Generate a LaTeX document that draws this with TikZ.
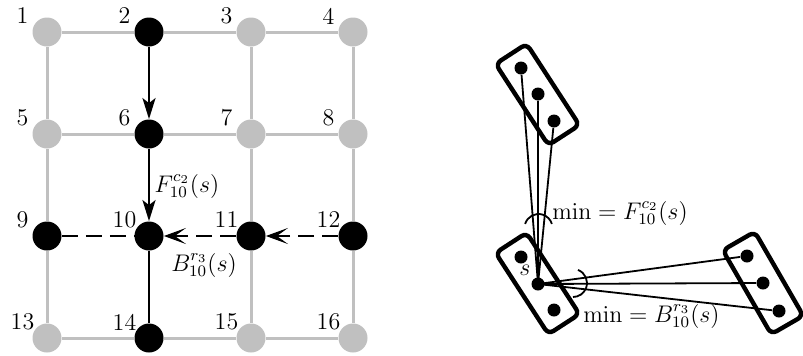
\documentclass[tikz,border=0pt]{standalone}
\usetikzlibrary{arrows.meta,backgrounds}
\definecolor{lg}{RGB}{192,192,192}
\begin{document}
\begin{tikzpicture}[x=0.5pt,y=-0.5pt, font=\fontsize{12}{14}\selectfont,
 gnode/.style={circle,fill=lg,minimum size=14.5pt,inner sep=0pt},
 bnode/.style={circle,fill=black,minimum size=14.5pt,inner sep=0pt},
 gedge/.style={draw=lg,line width=1.5pt},
 solidarr/.style={line width=1.2pt,-{Stealth[length=10.5pt,width=6.5pt,inset=2.5pt]}},
 dashedge/.style={line width=1.3pt,dash pattern=on 8pt off 4pt},
 dasharr/.style={dashedge,-{Stealth[length=11pt,width=8pt,inset=5.5pt]}},
 numlab/.style={inner sep=0pt},
 rbox/.style={draw,line width=2.2pt,rounded corners=3pt,minimum width=48.5pt,minimum height=18.5pt,inner sep=0pt},
 dot/.style={circle,fill=black,minimum size=6.5pt,inner sep=0pt},
 thinline/.style={line width=0.9pt}]
\useasboundingbox (0,0) rectangle (803,355);
% grid nodes
\node[gnode] (n1) at (47,32) {};
\node[bnode] (n2) at (149,32) {};
\node[gnode] (n3) at (251,32) {};
\node[gnode] (n4) at (353,32) {};
\node[gnode] (n5) at (47,134) {};
\node[bnode] (n6) at (149,134) {};
\node[gnode] (n7) at (251,134) {};
\node[gnode] (n8) at (353,134) {};
\node[bnode] (n9) at (47,236) {};
\node[bnode] (n10) at (149,236) {};
\node[bnode] (n11) at (251,236) {};
\node[bnode] (n12) at (353,236) {};
\node[gnode] (n13) at (47,338) {};
\node[bnode] (n14) at (149,338) {};
\node[gnode] (n15) at (251,338) {};
\node[gnode] (n16) at (353,338) {};
\begin{scope}[on background layer]
\draw[gedge] (n1)--(n2) (n2)--(n3) (n3)--(n4)
 (n5)--(n6) (n6)--(n7) (n7)--(n8)
 (n13)--(n14) (n14)--(n15) (n15)--(n16)
 (n1)--(n5) (n5)--(n9) (n9)--(n13)
 (n3)--(n7) (n7)--(n11) (n11)--(n15)
 (n4)--(n8) (n8)--(n12) (n12)--(n16);
\end{scope}
% labels
\foreach \i/\x/\y in {1/47/32,2/149/32,3/251/32,4/353/32,5/47/134,6/149/134,7/251/134,8/353/134,9/47/236,10/149/236,11/251/236,12/353/236,13/47/338,14/149/338,15/251/338,16/353/338}
 \node[numlab] (l\i) at (\x-24.5,\y-16) {\i};
% black connectors
\draw[solidarr] (n2) -- (n6);
\draw[solidarr] (n6) -- (n10);
\draw[line width=1.3pt] (n10) -- (n14);
\draw[dashedge] (n9) -- (n10);
\draw[dasharr] (n11) -- (n10);
\draw[dasharr] (n12) -- (n11);
\node (fl) at (187,186) {$F^{c_2}_{10}(s)$};
\node (bl) at (204,265) {$B^{r_3}_{10}(s)$};
% right part
\node[rbox,rotate=-57] (btop) at (537.5,94.5) {};
\node[rbox,rotate=-57] (bs) at (537.5,283.5) {};
\node[rbox,rotate=-60] (bright) at (763,283) {};
\node[dot] (t1) at (521,68) {};
\node[dot] (t2) at (538,94) {};
\node[dot] (t3) at (554,121) {};
\node[dot] (s1) at (521,257) {};
\node[dot] (s2) at (538,284) {};
\node[dot] (s3) at (554,310) {};
\node[dot] (r1) at (747,256) {};
\node[dot] (r2) at (763,283) {};
\node[dot] (r3) at (779,311) {};
\draw[thinline] (s2.center) -- (t1) (s2.center) -- (t2) (s2.center) -- (t3)
 (s2.center) -- (r1) (s2.center) -- (r2) (s2.center) -- (r3);
\coordinate (ac1) at (538.5,228);
\coordinate (ac2) at (573,283);
\draw[thinline] (ac1) ++(163:7pt) arc[start angle=163,end angle=17,radius=7pt];
\draw[thinline] (ac2) ++(69:7pt) arc[start angle=69,end angle=-90,radius=7pt];
\node[anchor=west,inner sep=0pt] (fm) at (552,213) {$\min = F^{c_2}_{10}(s)$};
\node[anchor=west,inner sep=0pt] (bm) at (583,316) {$\min = B^{r_3}_{10}(s)$};
\node (sl) at (525,270) {$s$};
\end{tikzpicture}
\end{document}
